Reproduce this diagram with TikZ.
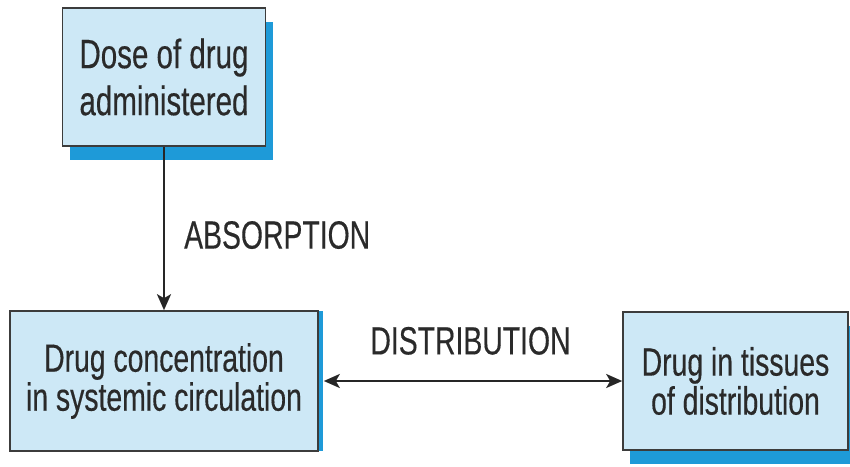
\documentclass[tikz,border=0pt]{standalone}
\usepackage{fontspec}
\newfontfamily\figfont[FakeStretch=0.72, FakeBold=0.35]{Liberation Sans}
\usetikzlibrary{positioning, arrows.meta, calc, shadows}
\definecolor{boxfill}{HTML}{CDE8F6}
\definecolor{boxshade}{HTML}{1E9AD8}
\definecolor{boxedge}{HTML}{3C3C3C}
\definecolor{inkgray}{HTML}{2A2A2A}
\tikzset{
  pkbox/.style={draw=boxedge, line width=0.8pt, fill=boxfill, text=inkgray, align=center, inner sep=0pt,
    font=\figfont\fontsize{19.7}{19.5}\selectfont},
  deepshade/.style={general shadow={fill=boxshade, shadow xshift=3.5pt, shadow yshift=-7pt}},
  sideshade/.style={general shadow={fill=boxshade, shadow xshift=2.5pt, shadow yshift=0pt}},
  pklabel/.style={text=inkgray, inner sep=0pt, font=\figfont\fontsize{19.7}{20}\selectfont},
  pkarrow/.style={draw=black!85, line width=1.2pt}
}

\begin{document}
\begin{tikzpicture}[x=0.5pt, y=-0.5pt, >={Stealth[length=8pt, width=7pt, inset=2pt]}]
  \useasboundingbox (0,0) rectangle (850,466);
  % dose on top, plasma and tissue compartments below
  \node[pkbox, deepshade, minimum width=101.5pt, minimum height=69pt,
    font=\figfont\fontsize{20.5}{23.5}\selectfont] (dose) at (164,77) {Dose of drug\\administered};
  \node[pkbox, sideshade, minimum width=154pt, minimum height=70pt] (conc) at (164,381)
    {Drug concentration\\in systemic circulation};
  \node[pkbox, deepshade, minimum width=112.5pt, minimum height=69pt] (tissue) at (735.5,381)
    {Drug in tissues\\of distribution};
  \draw[pkarrow, ->] (dose) -- node[pklabel, right=9.5pt, pos=0.54] {ABSORPTION} (conc);
  \draw[pkarrow, <->, shorten <=2.5pt] (conc) -- node[pklabel, above=12.5pt] {DISTRIBUTION} (tissue);
\end{tikzpicture}
\end{document}
